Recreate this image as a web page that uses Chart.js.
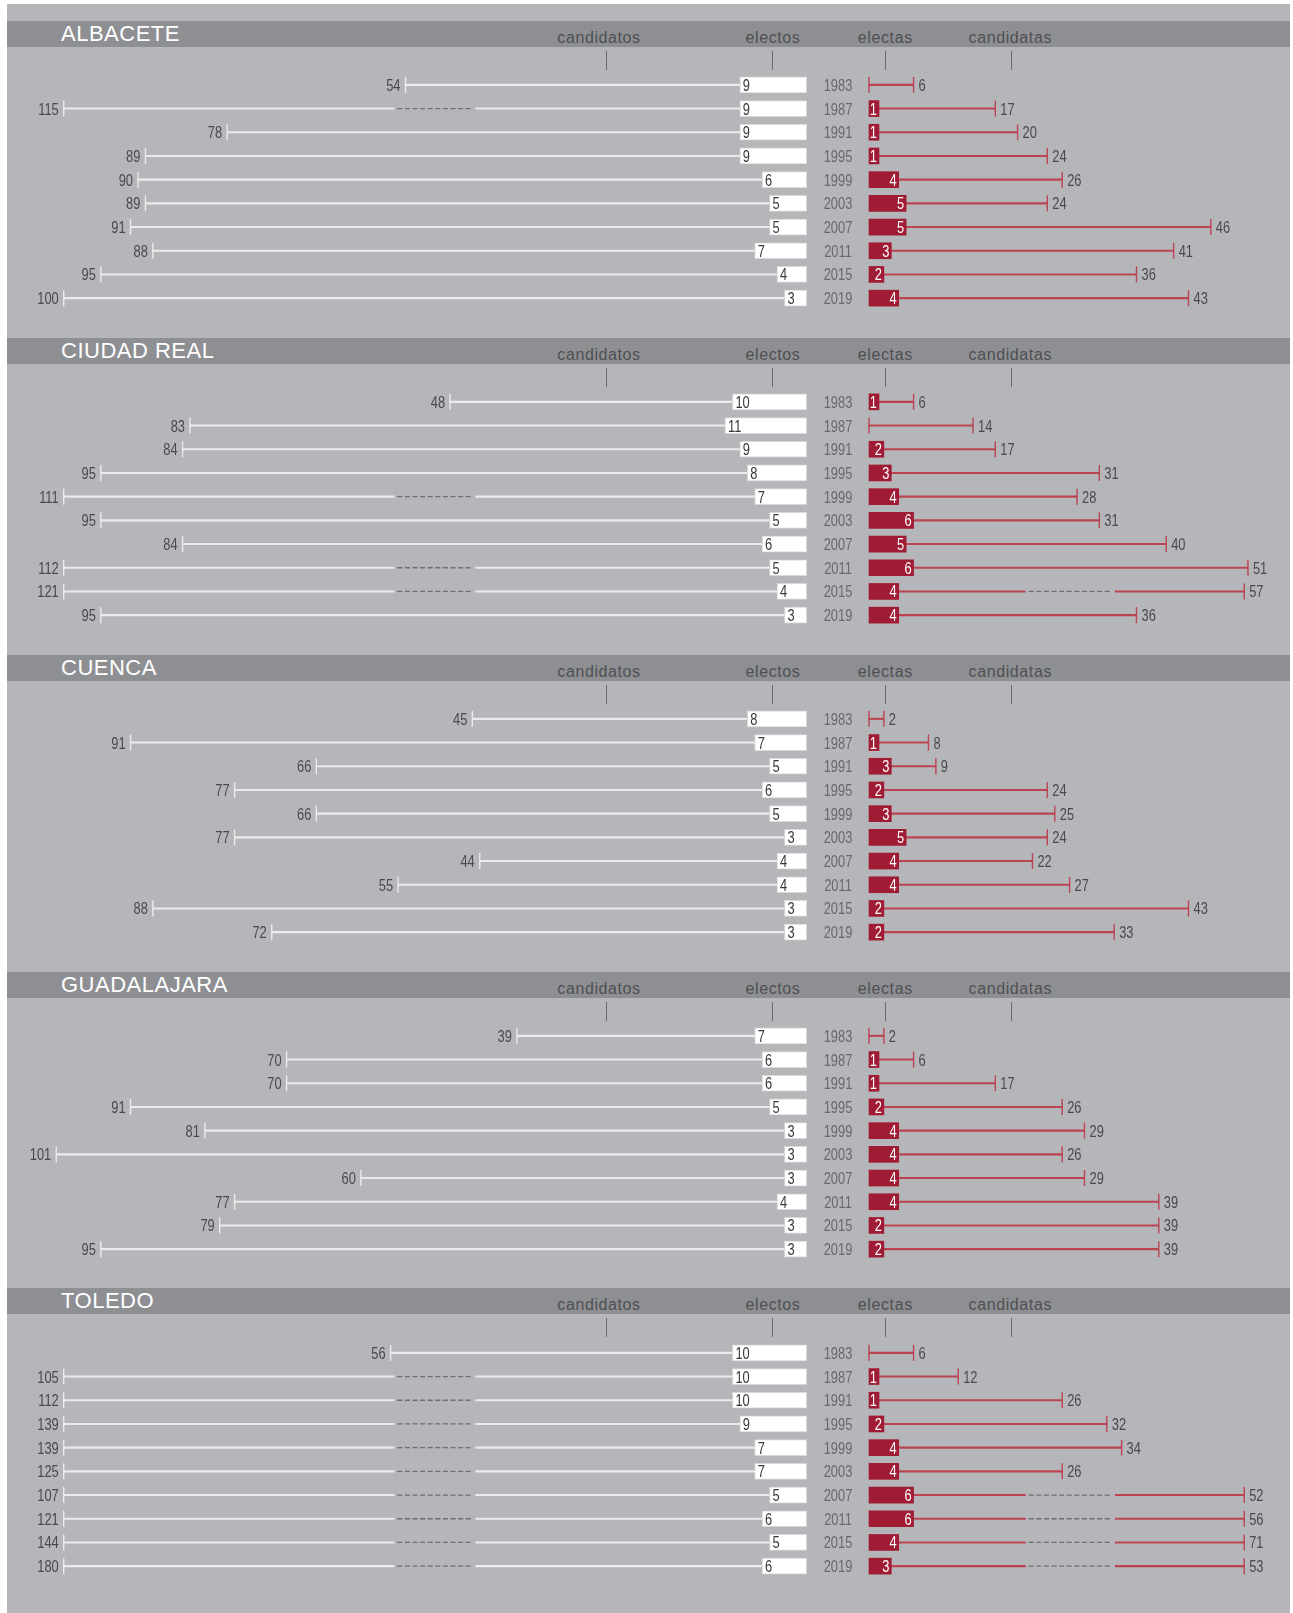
<!DOCTYPE html>
<html><head><meta charset="utf-8">
<script src="https://cdn.jsdelivr.net/npm/chart.js@4.4.1/dist/chart.umd.min.js"></script>
<style>
html,body{margin:0;padding:0;background:#fff;}
#page{position:relative;width:1293px;height:1613px;overflow:hidden;background:#fff;}
#bg{position:absolute;left:7px;top:4px;width:1283px;height:1609px;background:#b5b6b9;}
.band{position:absolute;left:7px;width:1283px;height:26px;background:#8e8f93;}
.prov{position:absolute;left:54px;top:0;line-height:26px;font-size:22px;font-family:'Liberation Sans',Arial,sans-serif;color:#fff;letter-spacing:0.5px;white-space:nowrap;}
.col{position:absolute;font-size:16px;font-family:'Liberation Sans',Arial,sans-serif;color:#4f4f52;letter-spacing:0.6px;line-height:16px;transform:translateX(-50%);white-space:nowrap;}
.htick{position:absolute;width:1px;height:19px;background:#6a6a6d;}
canvas{position:absolute;left:0;}
</style></head><body><div id="page"><div id="bg"></div></div>
<script>
// ---------- DATA ----------
const years = ['1983','1987','1991','1995','1999','2003','2007','2011','2015','2019'];
const provinces = ['ALBACETE','CIUDAD REAL','CUENCA','GUADALAJARA','TOLEDO'];
const columnLabels = ['candidatos','electos','electas','candidatas'];

const albaceteCandidatos = [54,115,78,89,90,89,91,88,95,100];
const albaceteElectos    = [9,9,9,9,6,5,5,7,4,3];
const albaceteElectas    = [0,1,1,1,4,5,5,3,2,4];
const albaceteCandidatas = [6,17,20,24,26,24,46,41,36,43];

const ciudadRealCandidatos = [48,83,84,95,111,95,84,112,121,95];
const ciudadRealElectos    = [10,11,9,8,7,5,6,5,4,3];
const ciudadRealElectas    = [1,0,2,3,4,6,5,6,4,4];
const ciudadRealCandidatas = [6,14,17,31,28,31,40,51,57,36];

const cuencaCandidatos = [45,91,66,77,66,77,44,55,88,72];
const cuencaElectos    = [8,7,5,6,5,3,4,4,3,3];
const cuencaElectas    = [0,1,3,2,3,5,4,4,2,2];
const cuencaCandidatas = [2,8,9,24,25,24,22,27,43,33];

const guadalajaraCandidatos = [39,70,70,91,81,101,60,77,79,95];
const guadalajaraElectos    = [7,6,6,5,3,3,3,4,3,3];
const guadalajaraElectas    = [0,1,1,2,4,4,4,4,2,2];
const guadalajaraCandidatas = [2,6,17,26,29,26,29,39,39,39];

const toledoCandidatos = [56,105,112,139,139,125,107,121,144,180];
const toledoElectos    = [10,10,10,9,7,7,5,6,5,6];
const toledoElectas    = [0,1,1,2,4,4,6,6,4,3];
const toledoCandidatas = [6,12,26,32,34,26,52,56,71,53];

const panels = [
  [albaceteCandidatos, albaceteElectos, albaceteElectas, albaceteCandidatas],
  [ciudadRealCandidatos, ciudadRealElectos, ciudadRealElectas, ciudadRealCandidatas],
  [cuencaCandidatos, cuencaElectos, cuencaElectas, cuencaCandidatas],
  [guadalajaraCandidatos, guadalajaraElectos, guadalajaraElectas, guadalajaraCandidatas],
  [toledoCandidatos, toledoElectos, toledoElectas, toledoCandidatas]
];

// ---------- LAYOUT / STYLE ----------
const PX_PER_UNIT = 7.43;
const LEFT_ORIGIN_PX = 806.7;
const RIGHT_ORIGIN_PX = 869;
const W = 1293;
const XMIN = -LEFT_ORIGIN_PX / PX_PER_UNIT;
const XMAX = (W - LEFT_ORIGIN_PX) / PX_PER_UNIT;
const GAP = (RIGHT_ORIGIN_PX - LEFT_ORIGIN_PX) / PX_PER_UNIT;
const LEFT_LIMIT = 102, LEFT_DRAWN = 100;      // broken-axis behaviour
const RIGHT_LIMIT = 51, RIGHT_DRAWN = 50.5;
const LEFT_BREAK = [-55.1, -45.0];
const RIGHT_BREAK = [21.5, 32.7];
const PANEL_STEP = 316.85;
const BAND_TOP = 21;
const CANVAS_TOP = 73.45;
const ROW_H = 23.67;
const BG = '#b5b6b9';
const RED = '#a01c34';
const RED_LINE = '#bb4453';
const WHITE_LINE = '#ebebeb';
const HEAD_X = [599, 773, 885.3, 1010.3];
const HEAD_TICK_X = [605.5, 772, 885, 1010.5];
const YEAR_X = 838;
const FONT = "16.5px 'Liberation Sans', Arial, sans-serif";
const SX = 0.78;

const page = document.getElementById('page');

const leftDrawn = v => v > LEFT_LIMIT ? LEFT_DRAWN : v;
const rightDrawn = v => v > RIGHT_LIMIT ? RIGHT_DRAWN : v;

function condText(ctx, text, x, y, align, color) {
  ctx.save();
  ctx.font = FONT;
  ctx.fillStyle = color;
  ctx.textBaseline = 'alphabetic';
  ctx.textAlign = 'left';
  const w = ctx.measureText(text).width * SX;
  const left = align === 'left' ? x : align === 'right' ? x - w : x - w / 2;
  ctx.translate(left, y + 6);
  ctx.scale(SX, 1);
  ctx.fillText(text, 0, 0);
  ctx.restore();
}

function drawBreak(ctx, x0, x1, y) {
  ctx.save();
  ctx.fillStyle = BG;
  ctx.fillRect(x0 - 3, y - 2.5, (x1 - x0) + 6, 5);
  ctx.strokeStyle = '#6e6e72';
  ctx.lineWidth = 1.3;
  ctx.setLineDash([5, 2.6]);
  ctx.beginPath();
  ctx.moveTo(x0, y);
  ctx.lineTo(x1, y);
  ctx.stroke();
  ctx.restore();
}

function vTick(ctx, x, y, color) {
  ctx.save();
  ctx.strokeStyle = color;
  ctx.lineWidth = 1.4;
  ctx.beginPath();
  ctx.moveTo(x, y - 8);
  ctx.lineTo(x, y + 8);
  ctx.stroke();
  ctx.restore();
}

const overlay = {
  id: 'overlay',
  afterDatasetsDraw(chart) {
    const [cand, el, ela, canda] = chart.options.plugins.overlay.series;
    const ctx = chart.ctx;
    const xs = chart.scales.x, ys = chart.scales.y;
    years.forEach((yr, i) => {
      const y = ys.getPixelForValue(i);
      // left side
      if (cand[i] > LEFT_LIMIT) drawBreak(ctx, xs.getPixelForValue(LEFT_BREAK[0]), xs.getPixelForValue(LEFT_BREAK[1]), y);
      const lx = xs.getPixelForValue(-leftDrawn(cand[i]));
      vTick(ctx, lx, y, WHITE_LINE);
      condText(ctx, String(cand[i]), lx - 5, y, 'right', '#4a4a4d');
      const bx = xs.getPixelForValue(-el[i]);
      condText(ctx, String(el[i]), bx + 3, y, 'left', '#38383a');
      // year
      condText(ctx, yr, YEAR_X, y, 'center', '#69696d');
      // right side
      if (canda[i] > RIGHT_LIMIT) drawBreak(ctx, xs.getPixelForValue(GAP + RIGHT_BREAK[0]), xs.getPixelForValue(GAP + RIGHT_BREAK[1]), y);
      const rx = xs.getPixelForValue(GAP + rightDrawn(canda[i]));
      vTick(ctx, rx, y, RED_LINE);
      if (ela[i] === 0) vTick(ctx, xs.getPixelForValue(GAP), y, RED_LINE);
      condText(ctx, String(canda[i]), rx + 5, y, 'left', '#4a4a4d');
      if (ela[i] > 0) {
        const x0 = xs.getPixelForValue(GAP);
        const ex = Math.max(xs.getPixelForValue(GAP + ela[i]), x0 + 10);
        condText(ctx, String(ela[i]), ex - 2, y, 'right', '#ffffff');
      }
    });
  }
};

panels.forEach((series, p) => {
  const [cand, el, ela, canda] = series;
  // header band
  const band = document.createElement('div');
  band.className = 'band';
  band.style.top = (BAND_TOP + p * PANEL_STEP) + 'px';
  const prov = document.createElement('div');
  prov.className = 'prov';
  prov.textContent = provinces[p];
  band.appendChild(prov);
  page.appendChild(band);
  columnLabels.forEach((t, k) => {
    const s = document.createElement('div');
    s.className = 'col';
    s.textContent = t;
    s.style.left = HEAD_X[k] + 'px';
    s.style.top = (BAND_TOP + p * PANEL_STEP + 9) + 'px';
    page.appendChild(s);
    const tk = document.createElement('div');
    tk.className = 'htick';
    tk.style.left = HEAD_TICK_X[k] + 'px';
    tk.style.top = (BAND_TOP + p * PANEL_STEP + 30) + 'px';
    page.appendChild(tk);
  });

  const canvas = document.createElement('canvas');
  canvas.width = W;
  canvas.height = Math.round(ROW_H * years.length);
  canvas.style.top = Math.round(CANVAS_TOP + p * PANEL_STEP) + 'px';
  page.appendChild(canvas);

  new Chart(canvas, {
    type: 'bar',
    data: {
      labels: years,
      datasets: [
        { label: 'candidatos', data: cand.map((v, i) => [-leftDrawn(v), -el[i]]),
          backgroundColor: WHITE_LINE, barThickness: 1.4, grouped: false, order: 3 },
        { label: 'electos', data: el.map(v => [-v, 0]),
          backgroundColor: '#ffffff', borderColor: '#d8d8d8', borderWidth: 1, borderSkipped: false,
          barThickness: 16, grouped: false, order: 1 },
        { label: 'candidatas', data: canda.map((v, i) => [GAP + ela[i], GAP + rightDrawn(v)]),
          backgroundColor: RED_LINE, barThickness: 1.4, grouped: false, order: 2 },
        { label: 'electas', data: ela.map(v => v > 0 ? [GAP, GAP + v] : null),
          backgroundColor: RED, barThickness: 16, minBarLength: 10, grouped: false, order: 0 }
      ]
    },
    options: {
      indexAxis: 'y',
      responsive: false,
      animation: false,
      devicePixelRatio: 1,
      events: [],
      layout: { padding: 0 },
      plugins: { legend: { display: false }, tooltip: { enabled: false }, overlay: { series } },
      scales: {
        x: { type: 'linear', min: XMIN, max: XMAX, display: false },
        y: { type: 'category', display: false, offset: true }
      }
    },
    plugins: [overlay]
  });
});
</script>
</body></html>
